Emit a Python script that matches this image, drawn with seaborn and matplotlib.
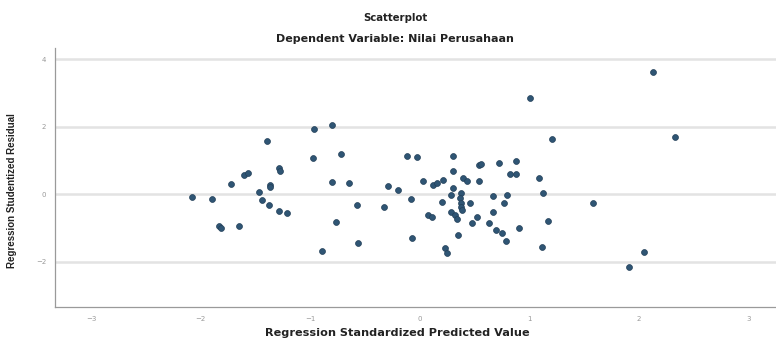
import matplotlib.pyplot as plt
import pandas as pd
import seaborn as sns

# standardized predicted value (x) and studentized residual (y)
pred = [
    -0.966, -1.397, -0.978, -1.283, -1.276, -1.604, -1.568, -1.726, -1.367, -1.367,
    -1.465, -2.078, -1.902, -1.440, -1.374, -1.288, -1.215, -1.830, -1.817, -1.647,
    -0.802, -0.723, -0.121, -0.030, -0.802, -0.650, -0.292, -0.201, 0.030, -0.085,
    -0.577, -0.328, 0.073, -0.766, -0.073, -0.565, -0.893, 0.298, 0.535, 0.559,
    0.723, 0.875, 0.304, 0.820, 0.881, 0.121, 0.158, 0.207, 0.395, 0.431,
    0.541, 1.090, 0.298, 0.280, 0.376, 0.365, 0.668, 0.796, 0.201, 0.376,
    0.456, 0.376, 0.766, 0.285, 0.316, 0.109, 0.522, 0.474, 0.335, 0.663,
    0.632, 0.693, 0.747, 0.905, 0.346, 0.784, 0.231, 0.243, 1.115, 2.127,
    1.009, 1.203, 2.327, 1.124, 1.580, 1.173, 2.048, 1.908, 0.383,
]
resid = [
    1.917, 1.579, 1.058, 0.761, 0.690, 0.563, 0.631, 0.296, 0.267, 0.199,
    0.059, -0.080, -0.157, -0.178, -0.335, -0.504, -0.554, -0.948, -1.007, -0.957,
    2.036, 1.176, 1.135, 1.096, 0.347, 0.326, 0.228, 0.119, 0.376, -0.148,
    -0.326, -0.376, -0.631, -0.839, -1.295, -1.461, -1.680, 1.126, 0.868, 0.889,
    0.910, 0.978, 0.681, 0.593, 0.593, 0.267, 0.317, 0.415, 0.465, 0.385,
    0.385, 0.483, 0.169, -0.030, 0.021, -0.127, -0.059, -0.021, -0.237, -0.276,
    -0.276, -0.394, -0.276, -0.524, -0.622, -0.690, -0.673, -0.850, -0.750, -0.524,
    -0.868, -1.067, -1.164, -1.007, -1.206, -1.384, -1.609, -1.739, -1.570, 3.606,
    2.836, 1.639, 1.698, 0.039, -0.258, -0.800, -1.719, -2.172, -0.474,
]

x_ticks = [-3, -2, -1, 0, 1, 2, 3]
y_ticks = [-2, 0, 2, 4]

df = pd.DataFrame({'pred': pred, 'resid': resid})

sns.set_style('white')
plt.rcParams['font.family'] = ['DejaVu Sans']

fig = plt.figure(figsize=(7.76, 3.45), dpi=100)
ax = fig.add_axes([0.071, 0.110, 0.929, 0.751])

for yv in y_ticks:
    ax.axhline(yv, color='#e3e3e3', lw=1.8, zorder=0)

sns.scatterplot(ax=ax, data=df, x='pred', y='resid', s=18,
                color='#2f5574', edgecolor='#223f58', linewidth=0.5, zorder=3)

ax.set_xlim(-3.33, 3.25)
ax.set_ylim(-3.35, 4.33)
ax.set_xticks(x_ticks)
ax.set_yticks(y_ticks)
ax.tick_params(axis='both', labelsize=5, colors='#999999', length=3, width=0.6)

for side in ['top', 'right']:
    ax.spines[side].set_visible(False)
for side in ['left', 'bottom']:
    ax.spines[side].set_color('#9a9a9a')
    ax.spines[side].set_linewidth(0.9)

ax.set_xlabel('Regression Standardized Predicted Value', fontsize=8.1,
              fontweight='bold', color='#222222')
ax.xaxis.set_label_coords(0.475, -0.082)
ax.set_ylabel('Regression Studentized Residual', fontsize=7,
              fontweight='bold', color='#222222',
              family=['Liberation Sans Narrow', 'Liberation Sans'])
ax.yaxis.set_label_coords(-0.053, 0.45)

fig.text(0.509, 0.948, 'Scatterplot', ha='center', va='center',
         fontsize=7.3, fontweight='bold', color='#222222')
fig.text(0.509, 0.887, 'Dependent Variable: Nilai Perusahaan', ha='center',
         va='center', fontsize=8, fontweight='bold', color='#222222')

fig.savefig('out.png', dpi=100)
